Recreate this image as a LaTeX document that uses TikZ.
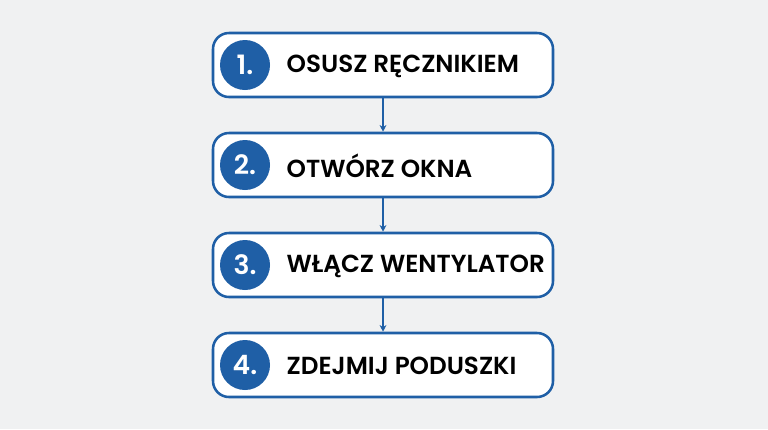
\documentclass[tikz,border=0pt]{standalone}
\usepackage{fontspec}
\setmainfont{Poppins}[BoldFont={* SemiBold}]
\usetikzlibrary{arrows.meta,positioning}
\definecolor{stepblue}{HTML}{1F5FA6}
\definecolor{bgcol}{HTML}{F0F1F2}
\tikzset{
  >=Stealth,
  every node/.append style={font=\bfseries\fontsize{18.5}{22}\selectfont},
}
\begin{document}
\begin{tikzpicture}[x=0.75pt,y=-0.75pt,
  stepbox/.style={draw=stepblue, line width=1.9pt, rounded corners=12pt, fill=white,
    minimum width=255pt, minimum height=48pt, inner sep=0pt},
  num/.style={circle, fill=stepblue, minimum size=37.5pt, inner sep=0pt, text=white,
    font=\bfseries\fontsize{20}{24}\selectfont},
  lbl/.style={anchor=west, text=black},
  arr/.style={-{Stealth[length=5pt,width=5pt]}, draw=stepblue, line width=1.3pt}
]
\fill[bgcol] (0,0) rectangle (768,429);
\useasboundingbox (0,0) rectangle (768,429);

% Steps
\node[stepbox] (s1) at (383,65) {};
\node[stepbox] (s2) at (383,165) {};
\node[stepbox] (s3) at (383,265) {};
\node[stepbox] (s4) at (383,365) {};

% Numbers
\node[num] (n1) at (245,65) {1.};
\node[num] (n2) at (245,165) {2.};
\node[num] (n3) at (245,265) {3.};
\node[num] (n4) at (245,365) {4.};

% Labels
\node[lbl] (t1) at (282,66) {OSUSZ RĘCZNIKIEM};
\node[lbl] (t2) at (282,166) {OTWÓRZ OKNA};
\node[lbl] (t3) at (282,266) {WŁĄCZ WENTYLATOR};
\node[lbl] (t4) at (282,366) {ZDEJMIJ PODUSZKI};

% Connectors
\draw[arr] (s1) -- (s2);
\draw[arr] (s2) -- (s3);
\draw[arr] (s3) -- (s4);
\end{tikzpicture}
\end{document}
